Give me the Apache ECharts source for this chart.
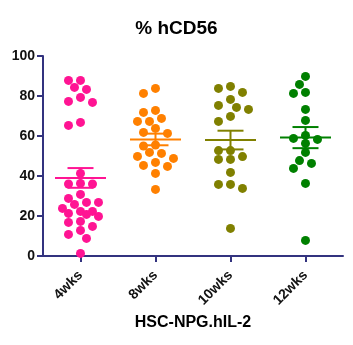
<!DOCTYPE html>
<html><head><meta charset="utf-8">
<script src="https://cdn.jsdelivr.net/npm/echarts@6/dist/echarts.min.js"></script>
<style>html,body{margin:0;padding:0;background:#fff}#c{width:353px;height:345px}</style>
</head><body><div id="c"></div>
<script>
const categories = ['4wks', '8wks', '10wks', '12wks'];
const wk4 = [87.8, 87.8, 84.3, 83.3, 79.3, 77.3, 76.8, 66.8, 65.3, 41.3, 36.3, 36, 36, 30.8, 28.8, 26.8, 26.8, 25.8, 23.8, 22.3, 22.3, 21.3, 20.8, 19.8, 17.3, 16.8, 14.8, 12.8, 10.8, 8.8, 1.3];
const wk8 = [83.8, 81.3, 72.8, 71.8, 68.8, 67.3, 67.3, 63.8, 61.8, 61.3, 55.5, 55, 51.8, 51.3, 49.8, 48.8, 46.8, 45.3, 44.8, 41.3, 33.3];
const wk10 = [84.8, 83.8, 81.8, 78.3, 75.3, 74.3, 73.3, 69.8, 67.3, 52.7, 52.7, 49.7, 48.3, 48.3, 41.8, 35.8, 35.8, 33.8, 13.8];
const wk12 = [89.8, 85.8, 81.8, 81.3, 73.3, 67.8, 60.3, 58.8, 58.3, 56.3, 51.8, 47.7, 46.3, 43.8, 36.3, 7.8];
const yMin = 0, yMax = 100, yInterval = 20;
const title = '% hCD56';
const xName = 'HSC-NPG.hIL-2';

const groups = [wk4, wk8, wk10, wk12];
const colors = ['#FF1493', '#FF8000', '#808000', '#008000'];
const axisColor = '#33337F';
const textColor = '#111111';

const gridTop = 56, gridBottom = 89, chartH = 345;
const pxPerUnit = (chartH - gridTop - gridBottom) / (yMax - yMin);

// simple beeswarm: horizontal pixel offsets, limited to +-maxSteps columns
function swarm(vals, step, minDist, maxSteps) {
  const idx = vals.map((v, i) => i).sort((a, b) => vals[b] - vals[a]);
  const placed = [];
  const off = new Array(vals.length).fill(0);
  idx.forEach(i => {
    const y = vals[i] * pxPerUnit;
    let best = null, bestD = -1;
    for (let k = 0; k <= maxSteps * 2; k++) {
      const m = Math.ceil(k / 2) * (k % 2 === 1 ? -1 : 1);
      const x = m * step;
      const d = placed.reduce((a, p) => Math.min(a, Math.hypot(p.x - x, p.y - y)), Infinity);
      if (d >= minDist) { best = x; bestD = d; break; }
      if (d > bestD + 0.5) { bestD = d; best = x; }
    }
    placed.push({ x: best, y });
    off[i] = best;
  });
  return off;
}

function stats(g) {
  const n = g.length;
  const m = g.reduce((a, b) => a + b, 0) / n;
  const sd = Math.sqrt(g.reduce((a, b) => a + (b - m) ** 2, 0) / (n - 1));
  const sem = sd / Math.sqrt(n);
  return [m, m - sem, m + sem];
}

const scatterSeries = groups.map((g, gi) => {
  const offs = swarm(g, 6, 8.5, 3);
  return {
    type: 'scatter',
    symbol: 'circle',
    symbolSize: 9,
    itemStyle: { color: colors[gi], opacity: 1 },
    z: 2,
    data: g.map((v, i) => ({ value: [gi, v], symbolOffset: [offs[i], 0] }))
  };
});

const meanData = groups.map((g, gi) => [gi].concat(stats(g)));

const meanSeries = {
  type: 'custom',
  z: 5,
  data: meanData,
  renderItem: function (params, api) {
    const xi = api.value(0);
    const c = api.coord([xi, api.value(1)]);
    const lo = api.coord([xi, api.value(2)]);
    const hi = api.coord([xi, api.value(3)]);
    const col = colors[params.dataIndex];
    const st = { stroke: col, lineWidth: 2 };
    const ln = (x1, y1, x2, y2) => ({ type: 'line', shape: { x1, y1, x2, y2 }, style: st });
    return {
      type: 'group',
      children: [
        ln(c[0] - 25.5, c[1], c[0] + 25.5, c[1]),
        ln(c[0], lo[1], c[0], hi[1]),
        ln(c[0] - 13, hi[1], c[0] + 13, hi[1]),
        ln(c[0] - 13, lo[1], c[0] + 13, lo[1])
      ]
    };
  }
};

const chart = echarts.init(document.getElementById('c'), null, { renderer: 'canvas' });
chart.setOption({
  animation: false,
  backgroundColor: '#ffffff',
  title: {
    text: title, left: 'center', top: 14,
    textStyle: { fontFamily: 'Liberation Sans, Arial, sans-serif', fontSize: 19, fontWeight: 'bold', color: '#000' }
  },
  grid: { left: 43, right: 10, top: gridTop, bottom: gridBottom },
  xAxis: {
    type: 'category',
    data: categories,
    boundaryGap: true,
    name: xName,
    nameLocation: 'middle',
    nameGap: 58,
    nameTextStyle: { fontFamily: 'Liberation Sans, Arial, sans-serif', fontSize: 16, fontWeight: 'bold', color: '#000' },
    axisLine: { show: true, lineStyle: { color: axisColor, width: 2 } },
    axisTick: { show: true, alignWithLabel: true, length: 6, lineStyle: { color: axisColor, width: 2 } },
    axisLabel: { rotate: 45, margin: 17, fontFamily: 'Liberation Sans, Arial, sans-serif', fontSize: 14, fontWeight: 'bold', color: textColor },
    splitLine: { show: false }
  },
  yAxis: {
    type: 'value',
    min: yMin, max: yMax, interval: yInterval,
    axisLine: { show: true, lineStyle: { color: axisColor, width: 2 } },
    axisTick: { show: true, length: 6, lineStyle: { color: axisColor, width: 2 } },
    axisLabel: { margin: 8, fontFamily: 'Liberation Sans, Arial, sans-serif', fontSize: 14, fontWeight: 'bold', color: textColor },
    splitLine: { show: false }
  },
  series: scatterSeries.concat([meanSeries])
});
</script>
</body></html>
